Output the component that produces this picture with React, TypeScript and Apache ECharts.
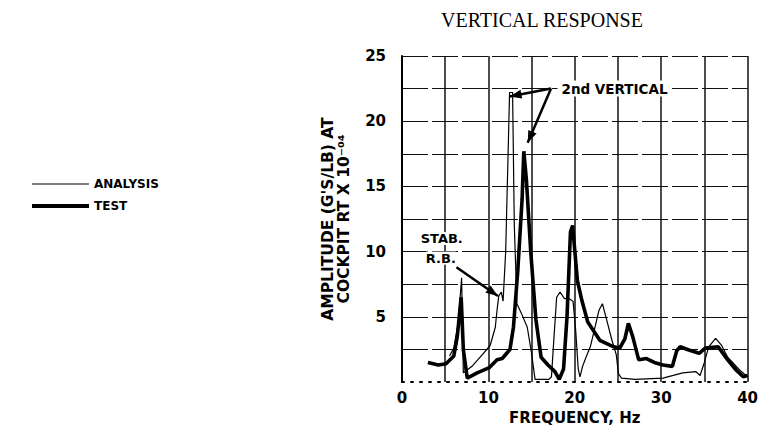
import React, { useEffect, useRef } from "react";
import * as echarts from "echarts";

// Analysis curve (thin line), frequency in Hz and amplitude x 10^-4
const analysisX = [5.5, 6.0, 6.5, 6.9, 7.1, 7.5, 8.1, 9.3, 10.2, 10.8, 11.0, 11.2, 11.5, 11.7, 12.0, 12.3, 12.45, 12.8, 13.0, 13.3, 13.8, 14.5, 15.0, 15.4, 16.0, 17.0, 17.3, 17.6, 17.9, 18.3, 18.8, 19.3, 19.8, 20.1, 20.4, 20.6, 20.9, 21.3, 21.8, 22.8, 23.2, 23.6, 24.3, 24.8, 25.05, 25.4, 27.0, 30.2, 32.5, 34.0, 34.5, 35.0, 35.5, 36.3, 37.0, 37.7, 39.1, 40.0];
const analysisY = [2.0, 2.6, 4.5, 8.0, 0.7, 0.9, 1.2, 2.1, 2.8, 4.2, 5.5, 6.6, 6.9, 6.2, 10.0, 18.0, 22.2, 22.2, 12.0, 6.0, 5.3, 4.2, 2.2, 0.2, 0.2, 0.2, 0.4, 3.5, 6.5, 6.9, 6.4, 6.4, 6.2, 4.0, 1.0, 0.4, 1.2, 1.9, 2.7, 5.5, 6.0, 5.0, 3.2, 2.1, 0.65, 0.3, 0.2, 0.3, 0.7, 0.8, 0.5, 1.5, 2.7, 3.35, 2.8, 1.9, 0.9, 0.4];

// Test curve (thick line)
const testX = [3.0, 4.2, 5.1, 6.0, 6.4, 6.7, 6.85, 7.1, 7.55, 8.7, 10.1, 11.0, 11.6, 12.5, 12.9, 13.4, 13.9, 14.1, 14.4, 14.9, 15.5, 16.1, 16.9, 17.7, 18.2, 18.7, 19.1, 19.5, 19.75, 20.3, 20.8, 21.5, 22.9, 24.5, 25.2, 25.8, 26.2, 26.7, 27.4, 28.3, 29.2, 30.2, 31.3, 31.8, 32.2, 33.2, 34.4, 35.1, 36.6, 37.7, 38.7, 39.5, 40.0];
const testY = [1.5, 1.3, 1.4, 2.0, 3.5, 5.5, 6.5, 2.5, 0.3, 0.7, 1.1, 1.7, 1.8, 2.5, 4.2, 8.5, 14.0, 17.7, 15.5, 10.0, 4.8, 1.9, 1.3, 0.8, 0.2, 1.0, 5.0, 11.5, 12.0, 7.8, 6.3, 4.6, 3.2, 2.7, 2.6, 3.3, 4.5, 3.5, 1.7, 1.8, 1.5, 1.3, 1.2, 2.4, 2.7, 2.45, 2.2, 2.6, 2.7, 1.7, 0.9, 0.4, 0.5];

const xTickLabels = [0, 10, 20, 30, 40];
const yTickLabels = [5, 10, 15, 20, 25];

const SANS = "DejaVu Sans";
const ANALYSIS_WIDTH = 1.2;
const TEST_WIDTH = 3.6;

function arrowHead(from: number[], tip: number[], len = 12, half = 4.5) {
  const dx = tip[0] - from[0];
  const dy = tip[1] - from[1];
  const d = Math.hypot(dx, dy) || 1;
  const ux = dx / d, uy = dy / d;
  const bx = tip[0] - ux * len, by = tip[1] - uy * len;
  return [
    [tip[0], tip[1]],
    [bx - uy * half, by + ux * half],
    [bx + uy * half, by - ux * half],
  ];
}

export default function App() {
  const ref = useRef<HTMLDivElement>(null);
  useEffect(() => {
    const chart = echarts.init(ref.current!, null, { renderer: "svg" });
    const option: any = {
      animation: false,
      backgroundColor: "#ffffff",
      title: {
        text: "VERTICAL RESPONSE",
        left: 436,
        top: 5,
        textStyle: { fontFamily: "Liberation Serif", fontWeight: "normal", fontSize: 20, color: "#000" },
      },
      legend: {
        data: [
          { name: "ANALYSIS", lineStyle: { width: ANALYSIS_WIDTH } },
          { name: "TEST", lineStyle: { width: TEST_WIDTH + 0.4 } },
        ],
        orient: "vertical",
        left: 30,
        top: 178,
        padding: 0,
        itemWidth: 57,
        itemHeight: 14,
        itemGap: 10,
        itemStyle: { opacity: 0 },
        lineStyle: { width: "inherit" },
        textStyle: { fontFamily: SANS, fontWeight: "bold", fontSize: 12, color: "#000" },
      },
      grid: { left: 402, top: 56, width: 351, height: 326 },
      xAxis: {
        type: "value",
        min: 0,
        max: 40,
        interval: 5,
        name: "FREQUENCY, Hz",
        nameLocation: "middle",
        nameGap: 28,
        nameTextStyle: { fontFamily: SANS, fontWeight: "bold", fontSize: 15, color: "#000" },
        axisLine: { show: true, lineStyle: { color: "#000", width: 2, type: [2, 7] } },
        axisTick: { show: false },
        axisLabel: {
          margin: 8,
          fontFamily: SANS,
          fontWeight: "bold",
          fontSize: 15,
          color: "#000",
          formatter: (v: number) => (xTickLabels.includes(v) ? String(v) : ""),
        },
        splitLine: { show: true, showMinLine: false, lineStyle: { color: "#111", width: 1.5, type: "solid" } },
      },
      yAxis: {
        type: "value",
        min: 0,
        max: 25,
        interval: 2.5,
        name: "AMPLITUDE (G'S/LB) AT\nCOCKPIT RT X 10⁻⁰⁴",
        nameLocation: "middle",
        nameRotate: 90,
        nameGap: 50,
        nameTextStyle: { fontFamily: SANS, fontWeight: "bold", fontSize: 15.5, lineHeight: 16, color: "#000" },
        axisLine: { show: true, lineStyle: { color: "#000", width: 2 } },
        axisTick: { show: false },
        axisLabel: {
          margin: 16,
          fontFamily: SANS,
          fontWeight: "bold",
          fontSize: 15,
          color: "#000",
          formatter: (v: number) => (yTickLabels.includes(v) ? String(v) : ""),
        },
        splitLine: { show: true, showMinLine: false, lineStyle: { color: "#111", width: 1.2, type: [26, 4] } },
      },
      series: [
        {
          name: "ANALYSIS",
          type: "line",
          symbol: "none",
          data: analysisX.map((x, i) => [x, analysisY[i]]),
          lineStyle: { color: "#000", width: ANALYSIS_WIDTH },
          itemStyle: { color: "#000" },
          z: 3,
        },
        {
          name: "TEST",
          type: "line",
          symbol: "none",
          data: testX.map((x, i) => [x, testY[i]]),
          lineStyle: { color: "#000", width: TEST_WIDTH },
          itemStyle: { color: "#000" },
          z: 4,
        },
      ],
    };
    chart.setOption(option);

    const p = (x: number, y: number) => chart.convertToPixel({ gridIndex: 0 }, [x, y]) as number[];

    const labelStart = p(17.25, 22.5);
    const tip1 = p(12.45, 21.9);
    const tip2 = p(14.55, 18.35);
    const stabFrom = p(6.3, 8.8);
    const stabTip = p(11.1, 6.6);
    const vertText = p(18.0, 22.5);
    const stabText = p(4.6, 11.0);
    const rbText = p(4.5, 9.5);

    const arrows = [
      [labelStart, tip1],
      [labelStart, tip2],
      [stabFrom, stabTip],
    ];
    const graphic: any[] = [];
    arrows.forEach(([a, b]) => {
      graphic.push({
        type: "line",
        shape: { x1: a[0], y1: a[1], x2: b[0], y2: b[1] },
        style: { stroke: "#000", lineWidth: 2.5 },
        z: 10,
      });
      graphic.push({
        type: "polygon",
        shape: { points: arrowHead(a, b) },
        style: { fill: "#000" },
        z: 10,
      });
    });
    graphic.push({
      type: "text",
      x: vertText[0],
      y: vertText[1],
      style: {
        text: "2nd VERTICAL",
        fontFamily: SANS,
        fontWeight: "bold",
        fontSize: 13.5,
        fill: "#000",
        textAlign: "left",
        textVerticalAlign: "middle",
        backgroundColor: "#fff",
        padding: [1, 4],
      },
      z: 10,
    });
    graphic.push({
      type: "text",
      x: stabText[0],
      y: stabText[1],
      style: {
        text: "STAB.",
        fontFamily: SANS,
        fontWeight: "bold",
        fontSize: 13,
        fill: "#000",
        textAlign: "center",
        textVerticalAlign: "middle",
        backgroundColor: "#fff",
      },
      z: 10,
    });
    graphic.push({
      type: "text",
      x: rbText[0],
      y: rbText[1],
      style: {
        text: "R.B.",
        fontFamily: SANS,
        fontWeight: "bold",
        fontSize: 13,
        fill: "#000",
        textAlign: "center",
        textVerticalAlign: "middle",
        backgroundColor: "#fff",
      },
      z: 10,
    });
    chart.setOption({ graphic });

    return () => chart.dispose();
  }, []);
  return <div ref={ref} style={{ position: "absolute", left: 0, top: 0, width: 761, height: 437 }} />;
}
